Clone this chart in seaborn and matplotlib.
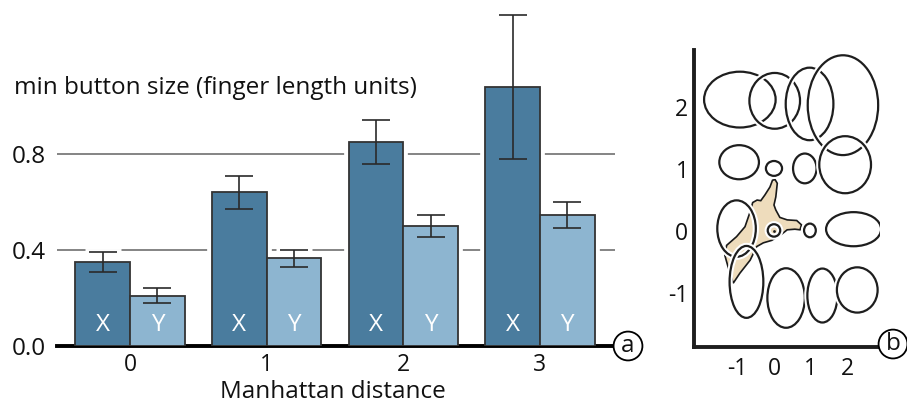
import matplotlib
matplotlib.use("Agg")
import numpy as np
import pandas as pd
import matplotlib.pyplot as plt
from matplotlib.patches import Ellipse, Polygon, Rectangle
import seaborn as sns

# ---- panel a: minimum button size per Manhattan distance ----
distances = ["0", "1", "2", "3"]
axis_names = ["X", "Y"]
size_x = [0.35, 0.64, 0.85, 1.08]
err_x = [0.04, 0.07, 0.09, 0.30]
size_y = [0.21, 0.365, 0.50, 0.545]
err_y = [0.03, 0.035, 0.045, 0.055]
y_ticks = [0.0, 0.4, 0.8]

# ---- panel b: touch ellipses around target grid (finger units) ----
ell_cx = [-0.93, 0.02, 0.97, 1.88, -0.95, 0.00, 0.84, 1.94,
          -1.02, 0.00, 0.98, 2.17, -0.75, 0.33, 1.32, 2.27]
ell_cy = [2.12, 2.10, 2.05, 2.03, 1.11, 1.01, 1.01, 1.07,
          0.04, 0.01, 0.01, 0.03, -0.82, -1.08, -1.04, -0.95]
ell_w = [1.95, 1.38, 1.30, 1.92, 1.08, 0.44, 0.64, 1.41,
         1.05, 0.34, 0.32, 1.50, 0.92, 1.02, 0.82, 1.11]
ell_h = [0.90, 0.90, 1.17, 1.61, 0.55, 0.24, 0.48, 0.92,
         0.91, 0.20, 0.22, 0.55, 1.16, 0.96, 0.87, 0.73]
grid_ticks = [-1, 0, 1, 2]

# hand silhouette outline
hand_x = [0.03, 0.09, 0.05, 0.00, 0.05, 0.16, 0.36, 0.62, 0.75, 0.71, 0.57,
          0.36, 0.21, -0.06, -0.29, -0.47, -0.65, -0.93, -1.11, -1.25, -1.34,
          -1.29, -1.02, -0.79, -0.65, -0.58, -0.46, -0.36, -0.25, -0.11, -0.04]
hand_y = [0.83, 0.77, 0.55, 0.42, 0.34, 0.22, 0.18, 0.17, 0.10, 0.02, 0.03,
          0.02, -0.05, -0.15, -0.19, -0.25, -0.47, -0.68, -0.84, -0.58, -0.39,
          -0.23, -0.09, 0.07, 0.31, 0.46, 0.50, 0.49, 0.58, 0.71, 0.82]

COL_X = "#4a7c9e"
COL_Y = "#8db5d0"
EDGE = "#333333"
HAND = "#eedcbc"
INK = "#111111"

sns.set_theme(style="white")
plt.rcParams["font.family"] = ["Open Sans", "DejaVu Sans"]
plt.rcParams["axes.unicode_minus"] = False
plt.rcParams["text.color"] = INK
plt.rcParams["axes.labelcolor"] = INK
plt.rcParams["xtick.color"] = INK
plt.rcParams["ytick.color"] = INK
FS = 17.5
FS_TICK = 16.5
FS_B = 16.5

fig = plt.figure(figsize=(9.07, 4.03), dpi=100)

# ---------------- panel a ----------------
ax = fig.add_axes([57 / 907, 57 / 403, 558 / 907, 336 / 403])
df = pd.DataFrame({
    "distance": distances * 2,
    "axis": ["X"] * len(distances) + ["Y"] * len(distances),
    "size": size_x + size_y,
})
sns.barplot(data=df, x="distance", y="size", hue="axis", order=distances,
            hue_order=axis_names, palette=[COL_X, COL_Y], width=0.8,
            errorbar=None, edgecolor=EDGE, linewidth=1.3, saturation=1,
            legend=False, ax=ax, zorder=3)

for t in y_ticks[1:]:
    ax.axhline(t, color="#6f6f6f", lw=1.2, zorder=0.5)

for cont, vals, errs, name in zip(ax.containers, [size_x, size_y],
                                  [err_x, err_y], axis_names):
    for bar, v, e in zip(cont, vals, errs):
        cx = bar.get_x() + bar.get_width() / 2
        # white knock-out around bars and error bars so grid lines break
        ax.add_patch(Rectangle((bar.get_x(), 0), bar.get_width(), bar.get_height(),
                               fc="none", ec="white", lw=7, zorder=1))
        ax.errorbar(cx, v, yerr=e, fmt="none", ecolor="white", elinewidth=5,
                    capsize=13, capthick=5, zorder=1)
        ax.errorbar(cx, v, yerr=e, fmt="none", ecolor="#2a2a2a", elinewidth=1.2,
                    capsize=10, capthick=1.2, zorder=4)
        ax.text(cx, 0.088, name, color="white", ha="center", va="center",
                fontsize=FS, zorder=5)

ax.set_xlim(-0.534, 3.55)
ax.set_ylim(0, 1.40)
ax.set_yticks(y_ticks)
ax.set_yticklabels([f"{t:.1f}" for t in y_ticks])
ax.tick_params(axis="y", length=0, pad=8, labelsize=FS)
ax.tick_params(axis="x", length=0, pad=5, labelsize=FS_TICK)
ax.set_xlabel("")
ax.set_ylabel("")
sns.despine(ax=ax, left=True)
ax.spines["bottom"].set_linewidth(2.8)
ax.spines["bottom"].set_color("black")
ax.set_facecolor("none")
fig.text(333 / 907, 1 - 398 / 403, "Manhattan distance", fontsize=FS,
         ha="center", va="baseline")
fig.text(14 / 907, 1 - 88 / 403, "min button size (finger length units)",
         fontsize=FS, va="center", ha="left")
ax.text(1 + 13 / 558, 0.0, "a", transform=ax.transAxes, ha="center", va="center",
        fontsize=FS, clip_on=False, zorder=6,
        bbox=dict(boxstyle="circle,pad=0.1", fc="white", ec="black", lw=1.3))

# ---------------- panel b ----------------
bx = fig.add_axes([694 / 907, 56 / 403, 186 / 907, 297 / 403])
bx.add_patch(Polygon(np.column_stack([hand_x, hand_y]), closed=True,
                     fc=HAND, ec="#1a1a1a", lw=1.2, zorder=1))
for i, (cx, cy, w, h) in enumerate(zip(ell_cx, ell_cy, ell_w, ell_h)):
    bx.add_patch(Ellipse((cx, cy), w, h, fc="none", ec="white", lw=4.5,
                         zorder=2 + 2 * i))
    bx.add_patch(Ellipse((cx, cy), w, h, fc="none", ec="#1e1e1e", lw=1.6,
                         zorder=3 + 2 * i))
sns.scatterplot(x=[0.0], y=[0.0], ax=bx, color="#1e1e1e", s=4,
                linewidth=0, zorder=60)

bx.set_xlim(-2.18, 2.89)
bx.set_ylim(-1.87, 2.92)
bx.set_xticks(grid_ticks)
bx.set_yticks(grid_ticks)
bx.set_xticklabels([str(t) for t in grid_ticks])
bx.set_yticklabels([str(t) for t in grid_ticks])
bx.tick_params(axis="both", direction="in", length=4, width=1.2,
               colors="#1e1e1e", labelsize=FS_B, labelcolor=INK)
bx.tick_params(axis="x", pad=7)
bx.tick_params(axis="y", pad=4)
sns.despine(ax=bx)
for s in ("left", "bottom"):
    bx.spines[s].set_linewidth(2.8)
    bx.spines[s].set_color("#1e1e1e")
bx.set_facecolor("none")
bx.text(1 + 13 / 186, 0.01, "b", transform=bx.transAxes, ha="center",
        va="center", fontsize=FS, clip_on=False, zorder=70,
        bbox=dict(boxstyle="circle,pad=0.1", fc="white", ec="black", lw=1.3))

fig.savefig("out.png", dpi=100)
